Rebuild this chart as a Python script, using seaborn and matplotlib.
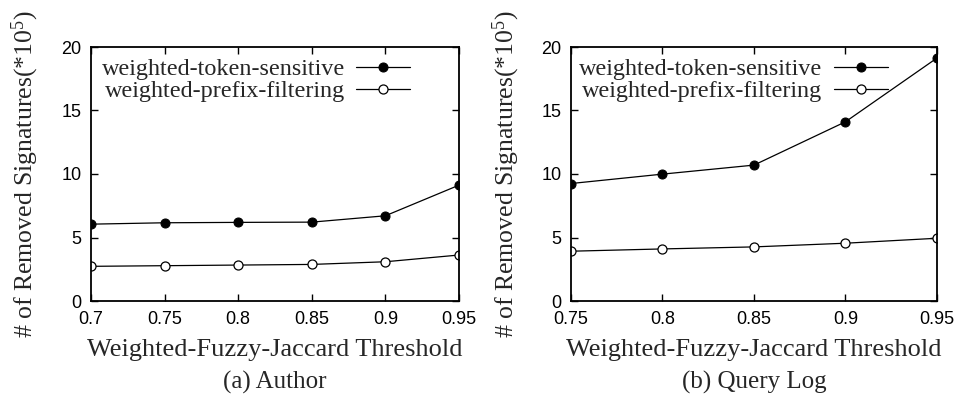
import matplotlib
matplotlib.use("Agg")
import matplotlib.pyplot as plt
import seaborn as sns
import pandas as pd

author_x = [0.7, 0.75, 0.8, 0.85, 0.9, 0.95]
author_token = [6.05, 6.16, 6.19, 6.21, 6.71, 9.12]
author_prefix = [2.73, 2.78, 2.83, 2.88, 3.09, 3.62]

query_x = [0.75, 0.8, 0.85, 0.9, 0.95]
query_token = [9.25, 9.99, 10.70, 14.11, 19.13]
query_prefix = [3.92, 4.10, 4.26, 4.55, 4.94]

series_names = ["weighted-token-sensitive", "weighted-prefix-filtering"]
author_ticks = ["0.7", "0.75", "0.8", "0.85", "0.9", "0.95"]
query_ticks = ["0.75", "0.8", "0.85", "0.9", "0.95"]
y_ticks = [0, 5, 10, 15, 20]
xlabel = "Weighted-Fuzzy-Jaccard Threshold"
ylabel = r"# of Removed Signatures(*10$^5$)"
subtitles = ["(a) Author", "(b) Query Log"]

sns.set_style("ticks")
plt.rcParams["font.family"] = ["Liberation Serif", "DejaVu Serif"]
plt.rcParams["mathtext.fontset"] = "custom"
plt.rcParams["mathtext.rm"] = "Liberation Serif"
plt.rcParams["mathtext.it"] = "Liberation Serif:italic"
plt.rcParams["mathtext.default"] = "rm"

fig = plt.figure(figsize=(9.59, 4.0), dpi=100)
ax1 = fig.add_axes([0.0949, 0.2475, 0.3837, 0.635])
ax2 = fig.add_axes([0.5954, 0.2475, 0.3816, 0.635])

panels = [
    (ax1, author_x, author_token, author_prefix, author_ticks, subtitles[0]),
    (ax2, query_x, query_token, query_prefix, query_ticks, subtitles[1]),
]

for ax, xs, tok, pre, ticks, sub in panels:
    df = pd.DataFrame({"x": xs, "token": tok, "prefix": pre})
    sns.lineplot(data=df, x="x", y="token", ax=ax, color="black", linewidth=0.9,
                 marker="o", markersize=6.5, markerfacecolor="black",
                 markeredgecolor="black", label=series_names[0])
    sns.lineplot(data=df, x="x", y="prefix", ax=ax, color="black", linewidth=0.9,
                 marker="o", markersize=6.5, markerfacecolor="white",
                 markeredgecolor="black", markeredgewidth=0.9, label=series_names[1])
    ax.set_xlim(xs[0], xs[-1])
    ax.set_ylim(0, 20)
    ax.set_xticks(xs)
    ax.set_xticklabels(ticks, fontfamily="Liberation Sans", fontsize=13)
    ax.set_yticks(y_ticks)
    ax.set_yticklabels([str(v) for v in y_ticks], fontfamily="Liberation Sans", fontsize=13)
    ax.tick_params(direction="in", length=5, width=1, top=True, right=True, pad=7, colors="black")
    for s in ax.spines.values():
        s.set_linewidth(1.3)
        s.set_color("black")
    ax.set_xlabel(xlabel, fontsize=19, labelpad=8)
    ax.set_ylabel(ylabel, fontsize=18.5)
    ax.yaxis.set_label_coords(-0.135, 0.5)
    w_px = ax.get_position().width * 959
    leg = ax.legend(loc="upper right", bbox_to_anchor=(1 - 49 / w_px, 0.955), frameon=False,
                    markerfirst=False, fontsize=17.4, handlelength=2.25,
                    labelspacing=0.0, handletextpad=0.45, borderaxespad=0.0, borderpad=0.0)
    pos = ax.get_position()
    fig.text(pos.x0 + pos.width / 2, 0.014, sub, ha="center", va="bottom", fontsize=18)

fig.savefig("out.png", dpi=100)
